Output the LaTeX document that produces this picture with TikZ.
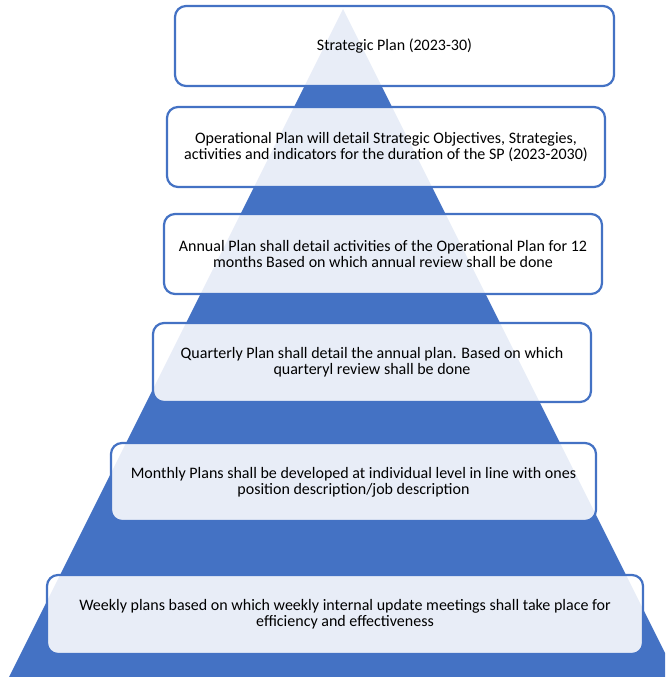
\documentclass[tikz,border=0pt]{standalone}
\usepackage{fontspec}
\setmainfont{Carlito}
\definecolor{pyrB}{RGB}{68,114,196}

\begin{document}
\begin{tikzpicture}[x=1pt,y=-1pt,
  planbox/.style={draw=pyrB,line width=2.2pt,fill=white,fill opacity=0.88,text opacity=1,
    rounded corners=11pt,align=center,inner sep=0pt,text=black,
    font=\fontsize{16}{16.2}\selectfont}]
% page, unit = 1 pixel of the reference
\useasboundingbox (0,0) rectangle (665,677);
\clip (0,0) rectangle (665,677);
% pyramid
\fill[pyrB] (343,9) -- (9,677) -- (677,677) -- cycle;
% levels of planning, top to bottom
\node[planbox,minimum width=439pt,minimum height=80pt] (sp) at (394.5,46) {Strategic Plan (2023-30)};
\node[planbox,minimum width=438pt,minimum height=80pt] (op) at (386,147)
  {Operational Plan will detail Strategic Objectives, Strategies,\\activities and indicators for the duration of the SP (2023-2030)};
\node[planbox,minimum width=438pt,minimum height=80pt] (ap) at (383,254)
  {Annual Plan shall detail activities of the Operational Plan for 12\\months Based on which annual review shall be done};
\node[planbox,minimum width=438pt,minimum height=79pt] (qp) at (372,362.5)
  {Quarterly Plan shall detail the annual plan. Based on which\\quarteryl review shall be done};
\node[planbox,minimum width=485pt,minimum height=78pt] (mp) at (353.5,482)
  {Monthly Plans shall be developed at individual level in line with ones\\position description/job description};
\node[planbox,minimum width=596pt,minimum height=79pt] (wp) at (345,614.5)
  {Weekly plans based on which weekly internal update meetings shall take place for\\efficiency and effectiveness};
\end{tikzpicture}
\end{document}
